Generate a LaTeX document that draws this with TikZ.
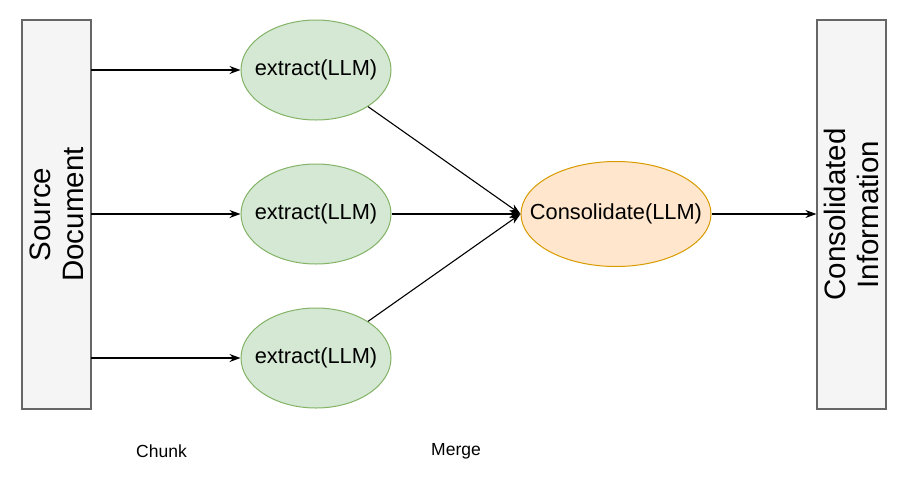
\documentclass[tikz,border=0pt]{standalone}
\usepackage{fontspec}
\setmainfont{Liberation Sans}
\usetikzlibrary{shapes.geometric,arrows.meta}
\definecolor{boxfill}{HTML}{F5F5F5}
\definecolor{boxline}{HTML}{666666}
\definecolor{gfill}{HTML}{D5E8D4}
\definecolor{gline}{HTML}{82B366}
\definecolor{ofill}{HTML}{FFE6CC}
\definecolor{oline}{HTML}{D79B00}
\tikzset{
  sidebox/.style={draw=boxline, fill=boxfill, line width=1.2pt, minimum width=69pt, minimum height=389pt, inner sep=0pt},
  sidetext/.style={rotate=90, align=center, font=\fontsize{29.5}{33}\selectfont},
  etext/.style={font=\fontsize{21.8}{24}\selectfont},
  llm/.style={ellipse, draw=gline, fill=gfill, line width=1pt, minimum width=150pt, minimum height=100pt, inner sep=0pt, label={[etext]center:#1}},
  cons/.style={ellipse, draw=oline, fill=ofill, line width=1pt, minimum width=190pt, minimum height=105pt, inner sep=0pt, label={[etext]center:#1}},
  conn/.style={-{Stealth[length=11pt,width=8pt]}, line width=1.1pt},
  lbl/.style={font=\fontsize{17.5}{20}\selectfont}
}
\begin{document}
\begin{tikzpicture}[x=1pt,y=-1pt]
\useasboundingbox (0,0) rectangle (907,491);
\node[sidebox] (src) at (56.5,214.5) {};
\node[sidetext] (srct) at (src.center) {Source\\Document};
\node[sidebox] (out) at (851.5,214.5) {};
\node[sidetext] (outt) at (out.center) {Consolidated\\Information};
\node[llm={extract(LLM)}] (e1) at (316,70) {};
\node[llm={extract(LLM)}] (e2) at (316,214) {};
\node[llm={extract(LLM)}] (e3) at (316,358) {};
\node[cons={Consolidate(LLM)}] (c) at (616,214) {};
\coordinate (s1) at (91,70);
\coordinate (s2) at (91,214);
\coordinate (s3) at (91,358);
\draw[conn] (s1) -- (e1.west);
\draw[conn] (s2) -- (e2.west);
\draw[conn] (s3) -- (e3.west);
\draw[conn] (e1) -- (c.west);
\draw[conn] (e2.east) -- (c.west);
\draw[conn] (e3) -- (c.west);
\draw[conn] (c.east) -- (out.west |- c.east);
\node[lbl] (chunk) at (161.5,451) {Chunk};
\node[lbl] (merge) at (456,451) {Merge};
\end{tikzpicture}
\end{document}
